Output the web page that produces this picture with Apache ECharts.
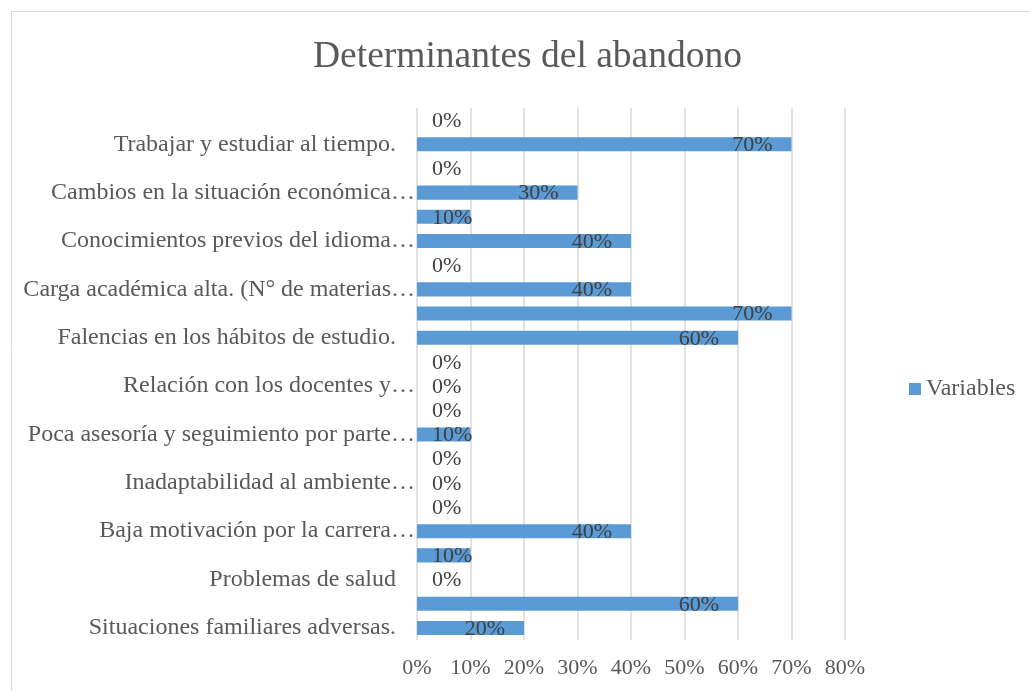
<!DOCTYPE html>
<html>
<head>
<meta charset="utf-8">
<script src="https://cdn.jsdelivr.net/npm/echarts@6/dist/echarts.min.js"></script>
<style>
  html, body { margin: 0; padding: 0; background: #ffffff; }
  #chart { width: 1030px; height: 691px; }
</style>
</head>
<body>
<div id="chart"></div>
<script>
// Category rows, bottom to top; every other row carries no visible name.
const categories = [
  'Situaciones familiares adversas.', '',
  'Problemas de salud', '',
  'Baja motivación por la carrera…', '',
  'Inadaptabilidad al ambiente…', '',
  'Poca asesoría y seguimiento por parte…', '',
  'Relación con los docentes y…', '',
  'Falencias en los hábitos de estudio.', '',
  'Carga académica alta. (N° de materias…', '',
  'Conocimientos previos del idioma…', '',
  'Cambios en la situación económica…', '',
  'Trabajar y estudiar al tiempo.', ''
];

// Percentages per row, bottom to top.
const values = [20, 60, 0, 10, 40, 0, 0, 0, 10, 0, 0, 0, 60, 70, 40, 0, 40, 10, 30, 0, 70, 0];

const seriesName = 'Variables';
const chartTitle = 'Determinantes del abandono';
const axisMax = 80;
const axisStep = 10;

const SERIF = '"Liberation Serif", "Times New Roman", serif';
const BAR = '#5B9BD5';

// Short bars cannot hold their label inside the end, so it sits from the start.
const shortBar = 15;
const barData = values.map(v => ({
  value: v,
  label: v < shortBar
    ? { position: 'insideLeft', distance: 15 }
    : { position: 'insideRight', distance: 19 }
}));

const chart = echarts.init(document.getElementById('chart'));
chart.setOption({
  animation: false,
  backgroundColor: '#ffffff',
  title: {
    text: chartTitle,
    left: 313,
    top: 38,
    padding: 0,
    textStyle: { fontFamily: SERIF, fontSize: 37.5, fontWeight: 'normal', color: '#595959' }
  },
  graphic: [{
    type: 'rect',
    shape: { x: 11.5, y: 11.5, width: 1040, height: 700 },
    style: { fill: 'none', stroke: '#d9d9d9', lineWidth: 1 },
    silent: true
  }],
  legend: {
    data: [seriesName],
    left: 909,
    top: 377,
    padding: 0,
    icon: 'rect',
    itemWidth: 12,
    itemHeight: 12,
    itemGap: 5,
    textStyle: { fontFamily: SERIF, fontSize: 24, color: '#595959' }
  },
  grid: { left: 417, right: 185, top: 108, bottom: 51, containLabel: false },
  xAxis: {
    type: 'value',
    min: 0,
    max: axisMax,
    interval: axisStep,
    axisLine: { show: false },
    axisTick: { show: false },
    splitLine: { show: true, lineStyle: { color: '#d9d9d9', width: 1.5 } },
    axisLabel: {
      formatter: '{value}%',
      margin: 17,
      fontFamily: SERIF,
      fontSize: 22,
      color: '#595959'
    }
  },
  yAxis: {
    type: 'category',
    data: categories,
    axisLine: { show: false },
    axisTick: { show: false },
    axisLabel: {
      interval: 0,
      margin: 2,
      formatter: name => {
        if (!name) return '';
        return name.endsWith('…') ? '{t|' + name + '}' : '{f|' + name + '}';
      },
      rich: {
        t: { fontFamily: SERIF, fontSize: 24, color: '#595959' },
        f: { fontFamily: SERIF, fontSize: 24, color: '#595959', padding: [0, 19, 0, 0] }
      }
    }
  },
  series: [{
    name: seriesName,
    type: 'bar',
    data: barData,
    barCategoryGap: '42%',
    itemStyle: { color: BAR },
    label: {
      show: true,
      formatter: '{c}%',
      fontFamily: SERIF,
      fontSize: 22,
      color: '#404040',
      offset: [0, 1]
    }
  }]
});
</script>
</body>
</html>
